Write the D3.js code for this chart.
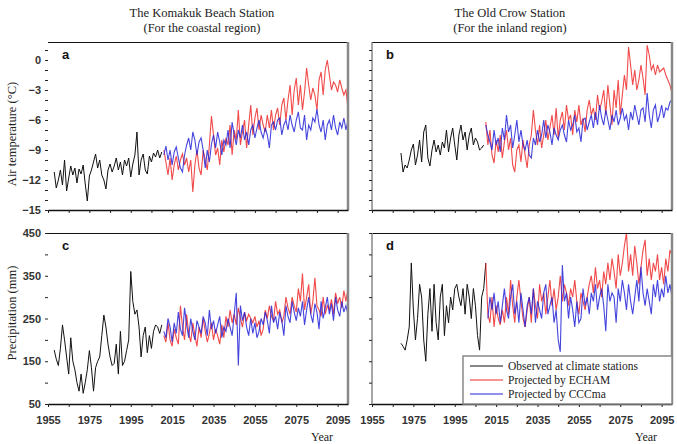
<!DOCTYPE html>
<html>
<head>
<meta charset="utf-8">
<script src="https://cdn.jsdelivr.net/npm/d3@7"></script>
<style>
body { margin: 0; background: #fff; }
</style>
</head>
<body>
<svg id="chart" width="677" height="444"></svg>
<script>
// --- data ---
const tempTicks = [0, -3, -6, -9, -12, -15];
const precipTicks = [50, 150, 250, 350, 450];
const yearTicks = [1955, 1975, 1995, 2015, 2035, 2055, 2075, 2095];

// a: Komakuk Beach air temperature
const obsTempKomakukStart = 1958;
const obsTempKomakuk = [
  -11.2, -12.8, -12.0, -11.0, -12.5, -10.0, -13.1, -11.8, -10.6, -11.5,
  -10.8, -12.3, -10.9, -11.4, -10.5, -12.4, -14.1, -11.6, -11.0, -10.2,
  -9.4, -10.8, -10.0, -11.5, -12.0, -12.9, -11.0, -10.4, -11.2, -10.6,
  -9.8, -11.0, -10.2, -11.5, -10.0, -10.6, -9.8, -11.7, -10.4, -9.5,
  -7.2, -11.5, -10.0, -9.4, -11.0, -11.4, -9.6, -10.2, -9.3, -9.7,
  -9.0, -9.8, -9.2
];
const echamTempKomakukStart = 2011;
const echamTempKomakuk = [
  -9.0, -10.2, -11.5, -9.8, -12.0, -10.5, -9.6, -11.0, -10.0, -9.4,
  -10.5, -9.8, -11.2, -10.0, -13.2, -10.5, -9.0, -10.8, -11.5, -9.0,
  -10.0, -11.0, -8.5, -5.6, -7.5, -9.5, -8.8, -10.5, -8.0, -9.2,
  -7.8, -8.5, -6.5, -9.5, -7.0, -8.0, -5.0, -8.5, -7.2, -6.0,
  -8.8, -6.5, -4.5, -7.5, -5.8, -4.8, -7.0, -5.5, -6.5, -7.2,
  -5.5, -6.8, -5.0, -7.0, -5.5, -4.8, -6.5, -4.5, -3.8, -6.0,
  -4.0, -2.5, -5.5, -3.0, -1.8, -4.5, -2.5, -5.0, -3.2, -0.8,
  -2.5, -4.0, -2.8, -3.5, -5.0, -2.0, -1.2, -3.5, -1.0, 0.0,
  -1.5, -3.0, -2.2, -2.5, -3.2, -2.0, -2.8, -3.5, -3.0, -4.8
];
const cccmaTempKomakukStart = 2011;
const cccmaTempKomakuk = [
  -9.5, -8.6, -10.0, -9.0, -10.5, -9.2, -8.7, -9.8, -10.8, -11.2,
  -9.5, -8.5, -7.8, -9.0, -7.2, -8.0, -9.5, -8.2, -7.8, -9.0,
  -10.8, -9.0, -10.2, -8.4, -7.5, -8.8, -7.2, -8.2, -9.5, -8.0,
  -8.5, -7.0, -8.8, -6.2, -7.5, -8.5, -7.0, -7.8, -6.5, -8.0,
  -7.2, -8.5, -7.0, -6.5, -7.8, -6.8, -6.0, -7.2, -7.8, -6.8,
  -7.5, -8.8, -6.5, -6.2, -7.0, -6.0, -5.8, -7.5, -6.5, -6.0,
  -7.0, -5.5, -6.5, -7.2, -6.0, -5.2, -6.8, -7.0, -5.5, -8.0,
  -6.5, -7.0, -5.8, -6.2, -4.9, -6.5, -7.2, -6.0, -8.0, -6.5,
  -6.0, -7.0, -5.5, -6.8, -7.5, -6.2, -6.8, -5.8, -7.0, -6.0
];

// b: Old Crow air temperature
const obsTempOldCrowStart = 1969;
const obsTempOldCrow = [
  -9.3, -11.2, -10.5, -10.8, -10.0, -9.0, -8.4, -10.5, -9.5, -8.0,
  -10.2, -7.2, -6.5, -9.8, -10.6, -9.0, -8.0, -9.2, -8.5, -9.5,
  -8.2, -8.8, -7.0, -9.2, -7.8, -6.8, -8.5, -10.0, -7.5, -6.5,
  -8.0, -7.2, -9.0, -7.5, -6.8, -8.5, -7.8, -8.2, -9.0, -8.8,
  -8.5
];
const echamTempOldCrowStart = 2010;
const echamTempOldCrow = [
  -6.2, -8.5, -7.0, -9.5, -10.3, -8.0, -9.2, -7.5, -9.8, -8.2,
  -7.0, -9.0, -7.8, -10.5, -11.2, -9.0, -8.5, -10.2, -8.0, -9.5,
  -10.8, -8.5, -7.5, -5.0, -7.0, -8.5, -6.5, -8.8, -7.5, -6.0,
  -8.0, -6.8, -5.5, -7.5, -4.8, -7.8, -6.0, -5.2, -7.0, -4.5,
  -6.0, -5.5, -7.5, -5.0, -6.2, -4.5, -6.5, -5.8, -7.2, -5.0,
  -4.0, -5.5, -4.8, -6.0, -3.5, -5.0, -4.2, -3.0, -5.5, -2.5,
  -4.5, -6.5, -3.0, -4.8, -2.0, -5.5, -3.5, -1.5, -3.0, 1.3,
  -0.5, -2.5, -1.0, -3.0, -2.0, -0.5, -1.8, -3.5, 1.5, 0.5,
  -1.0, -0.5, -1.5, -0.5, -1.2, -1.0, -0.8, -1.5, -2.0, -2.5, -3.3
];
const cccmaTempOldCrowStart = 2010;
const cccmaTempOldCrow = [
  -6.5, -7.5, -8.2, -9.0, -7.0, -8.5, -7.8, -9.2, -6.8, -8.0,
  -5.5, -7.2, -6.5, -8.8, -7.5, -6.0, -8.2, -7.0, -8.5, -9.0,
  -8.0, -9.5, -9.8, -7.8, -8.5, -7.0, -8.2, -7.5, -6.0, -7.8,
  -6.5, -7.2, -8.5, -6.8, -7.5, -8.0, -7.0, -6.5, -7.5, -8.2,
  -6.0, -7.0, -6.5, -5.5, -7.2, -6.8, -8.2, -6.0, -5.8, -7.0,
  -6.2, -5.5, -6.8, -5.2, -6.5, -4.5, -5.8, -6.5, -5.0, -6.0,
  -7.0, -5.5, -6.2, -5.0, -6.5, -5.8, -4.8, -6.0, -5.5, -7.0,
  -5.2, -6.0, -4.5, -5.5, -6.5, -5.0, -4.8, -6.2, -3.3, -5.5,
  -6.8, -5.0, -4.5, -6.2, -5.5, -4.5, -5.8, -4.8, -5.0, -4.2, -4.0
];

// c: Komakuk Beach precipitation
const obsPrecipKomakukStart = 1958;
const obsPrecipKomakuk = [
  176, 155, 140, 180, 235, 200, 160, 120, 205, 150,
  130, 100, 80, 120, 75, 100, 130, 175, 135, 80,
  135, 150, 160, 210, 258, 230, 190, 160, 140, 145,
  190, 120, 220, 140, 150, 175, 200, 360, 290, 260,
  270, 230, 160, 210, 230, 170, 210, 180, 220, 235,
  230, 215, 235
];
const echamPrecipKomakukStart = 2011;
const echamPrecipKomakuk = [
  210, 195, 240, 200, 185, 225, 205, 190, 280, 230,
  200, 260, 215, 195, 240, 210, 185, 230, 205, 250,
  220, 195, 215, 240, 200, 225, 210, 190, 235, 205,
  255, 230, 270, 240, 260, 235, 275, 250, 230, 265,
  245, 260, 250, 240, 255, 230, 245, 210, 225, 270,
  250, 280, 255, 245, 290, 260, 270, 240, 255, 300,
  275, 260, 300, 280, 265, 320, 290, 355, 270, 300,
  330, 260, 290, 345, 280, 270, 255, 300, 260, 280,
  270, 295, 260, 310, 285, 300, 275, 315, 290, 320
];
const cccmaPrecipKomakukStart = 2011;
const cccmaPrecipKomakuk = [
  220, 205, 250, 230, 195, 240, 215, 265, 225, 210,
  275, 235, 205, 250, 220, 200, 245, 230, 215, 255,
  240, 210, 270, 225, 245, 215, 235, 255, 205, 230,
  220, 250, 230, 210, 260, 310, 140, 280, 245, 265,
  230, 210, 250, 215, 240, 205, 220, 250, 235, 265,
  245, 215, 280, 240, 255, 225, 265, 245, 210, 280,
  255, 240, 290, 265, 245, 275, 255, 290, 235, 270,
  300, 260, 240, 285, 265, 225, 290, 250, 275, 300,
  260, 285, 245, 300, 270, 255, 290, 265, 280, 260
];

// d: Old Crow precipitation
const obsPrecipOldCrowStart = 1969;
const obsPrecipOldCrow = [
  192, 185, 176, 200, 230, 380, 270, 200, 250, 330,
  300, 200, 150, 260, 320, 220, 330, 240, 200, 300,
  330, 210, 280, 240, 300, 270, 320, 330, 300, 280,
  320, 260, 330, 300, 250, 320, 280, 210, 176, 300,
  320, 380
];
const echamPrecipOldCrowStart = 2010;
const echamPrecipOldCrow = [
  380, 260, 240, 300, 230, 280, 250, 235, 270, 240,
  300, 260, 340, 280, 240, 300, 340, 290, 250, 230,
  270, 300, 240, 320, 280, 250, 330, 290, 310, 260,
  300, 340, 280, 320, 270, 300, 350, 290, 330, 310,
  280, 320, 300, 340, 290, 260, 310, 290, 270, 300,
  330, 350, 310, 370, 320, 340, 300, 360, 330, 380,
  340, 390, 360, 320, 400, 350, 380, 420, 450, 360,
  400, 350, 420, 380, 330, 370, 410, 434, 350, 390,
  340, 380, 360, 400, 340, 370, 330, 390, 360, 410, 398
];
const cccmaPrecipOldCrowStart = 2011;
const cccmaPrecipOldCrow = [
  250, 300, 270, 310, 260, 290, 240, 280, 320, 270,
  250, 300, 330, 260, 290, 240, 310, 270, 230, 280,
  300, 260, 320, 240, 290, 270, 250, 310, 330, 260,
  280, 300, 240, 270, 200, 172, 375, 290, 310, 250,
  300, 270, 230, 290, 240, 250, 320, 280, 300, 260,
  310, 290, 330, 270, 300, 320, 280, 220, 330, 290,
  310, 300, 240, 320, 290, 340, 310, 270, 330, 290,
  260, 300, 340, 290, 371, 310, 280, 320, 290, 260,
  330, 300, 340, 290, 320, 300, 350, 310, 330, 300
];

const legendLabels = ['Observed at climate stations', 'Projected by ECHAM', 'Projected by CCCma'];
const seriesColors = ['#111', '#ee2a2a', '#2424d8'];

// --- helpers ---
function toPoints(start, values) {
  return values.map((v, i) => ({ year: start + i, v }));
}

const svg = d3.select('#chart');
const serif = '"Liberation Serif", "Times New Roman", serif';
const sans = '"Liberation Sans", Arial, sans-serif';

// station titles
[[202, 'The Komakuk Beach Station', '(For the coastal region)'],
 [510, 'The Old Crow Station', '(For the inland region)']].forEach(([cx, t1, t2]) => {
  svg.append('text').attr('x', cx).attr('y', 17).attr('text-anchor', 'middle')
    .attr('font-family', serif).attr('font-size', 12.5).attr('fill', '#222').text(t1);
  svg.append('text').attr('x', cx).attr('y', 32).attr('text-anchor', 'middle')
    .attr('font-family', serif).attr('font-size', 12.5).attr('fill', '#222').text(t2);
});

const panels = [
  { letter: 'a', x: [48, 348], y: [210, 42], domain: [-15, 1.8], ticks: tempTicks, minor: 1, labels: true, xlabels: false,
    series: [toPoints(obsTempKomakukStart, obsTempKomakuk), toPoints(echamTempKomakukStart, echamTempKomakuk), toPoints(cccmaTempKomakukStart, cccmaTempKomakuk)] },
  { letter: 'b', x: [372, 672], y: [210, 42], domain: [-15, 1.8], ticks: tempTicks, minor: 1, labels: false, xlabels: false,
    series: [toPoints(obsTempOldCrowStart, obsTempOldCrow), toPoints(echamTempOldCrowStart, echamTempOldCrow), toPoints(cccmaTempOldCrowStart, cccmaTempOldCrow)] },
  { letter: 'c', x: [48, 348], y: [404, 233], domain: [50, 450], ticks: precipTicks, minor: 50, labels: true, xlabels: true,
    series: [toPoints(obsPrecipKomakukStart, obsPrecipKomakuk), toPoints(echamPrecipKomakukStart, echamPrecipKomakuk), toPoints(cccmaPrecipKomakukStart, cccmaPrecipKomakuk)] },
  { letter: 'd', x: [372, 672], y: [404, 233], domain: [50, 450], ticks: precipTicks, minor: 50, labels: false, xlabels: true, legend: true,
    series: [toPoints(obsPrecipOldCrowStart, obsPrecipOldCrow), toPoints(echamPrecipOldCrowStart, echamPrecipOldCrow), toPoints(cccmaPrecipOldCrowStart, cccmaPrecipOldCrow)] }
];

panels.forEach((p, pi) => {
  const x = d3.scaleLinear().domain([1955, 2100]).range(p.x);
  const y = d3.scaleLinear().domain(p.domain).range(p.y);
  const g = svg.append('g');

  // clip
  const clipId = 'clip' + pi;
  svg.append('clipPath').attr('id', clipId).append('rect')
    .attr('x', p.x[0]).attr('y', p.y[1]).attr('width', p.x[1] - p.x[0]).attr('height', p.y[0] - p.y[1]);

  // series
  const line = d3.line().defined(d => d.v != null).x(d => x(d.year)).y(d => y(d.v));
  const lines = g.append('g').attr('clip-path', `url(#${clipId})`);
  p.series.forEach((s, i) => {
    lines.append('path').datum(s).attr('d', line).attr('fill', 'none')
      .attr('stroke', seriesColors[i]).attr('stroke-width', i === 0 ? 1 : 1.1)
      .attr('stroke-opacity', i === 0 ? 1 : 0.85);
  });

  // top border and right border
  g.append('line').attr('x1', p.x[0]).attr('x2', p.x[1]).attr('y1', p.y[1] + 0.5).attr('y2', p.y[1] + 0.5)
    .attr('stroke', '#111').attr('stroke-width', 1.2);
  g.append('line').attr('x1', p.x[1]).attr('x2', p.x[1]).attr('y1', p.y[1]).attr('y2', p.y[0])
    .attr('stroke', '#888').attr('stroke-width', 2.5);
  if (!p.labels) {
    g.append('line').attr('x1', p.x[0]).attr('x2', p.x[0]).attr('y1', p.y[1]).attr('y2', p.y[0])
      .attr('stroke', '#888').attr('stroke-width', 1.5);
  }

  // y axis: minor ticks + labelled majors
  const minorTicks = d3.range(p.domain[0], p.domain[1] + 0.001, p.minor);
  const yMinor = d3.axisLeft(y).tickValues(minorTicks).tickSize(3).tickFormat('');
  const ya = g.append('g').attr('transform', `translate(${p.x[0]},0)`).call(yMinor);
  ya.select('.domain').remove();
  ya.selectAll('line').attr('stroke', '#222');
  if (p.labels) {
    const yMajor = d3.axisLeft(y).tickValues(p.ticks).tickSize(0).tickPadding(7).tickFormat(d3.format('d'));
    const yl = g.append('g').attr('transform', `translate(${p.x[0]},0)`).call(yMajor);
    yl.select('.domain').remove();
    yl.selectAll('text').attr('font-family', sans).attr('font-size', 11).attr('font-weight', 'bold').attr('fill', '#333');
  }

  // x axis
  const xa = g.append('g').attr('transform', `translate(0,${p.y[0]})`)
    .call(d3.axisBottom(x).tickValues(d3.range(1955, 2101, 10)).tickSize(3).tickSizeOuter(0).tickFormat(''));
  xa.select('.domain').attr('stroke', '#111').attr('stroke-width', 1.4);
  xa.selectAll('line').attr('stroke', '#222');
  if (p.xlabels) {
    const xl = g.append('g').attr('transform', `translate(0,${p.y[0]})`)
      .call(d3.axisBottom(x).tickValues(yearTicks).tickSize(0).tickPadding(12).tickFormat(d3.format('d')));
    xl.select('.domain').remove();
    xl.selectAll('text').attr('font-family', sans).attr('font-size', 11).attr('font-weight', 'bold').attr('fill', '#333');
    svg.append('text').attr('x', p.x[1] - 26).attr('y', 441).attr('text-anchor', 'middle')
      .attr('font-family', serif).attr('font-size', 12).attr('fill', '#222').text('Year');
  }

  // panel letter
  g.append('text').attr('x', p.x[0] + 14).attr('y', p.y[1] + 17)
    .attr('font-family', sans).attr('font-weight', 'bold').attr('font-size', 13).attr('fill', '#111').text(p.letter);

  if (p.legend) {
    const lx = 463, ly = 356;
    g.append('rect').attr('x', lx).attr('y', ly).attr('width', p.x[1] - lx).attr('height', p.y[0] - ly)
      .attr('fill', '#fff').attr('stroke', '#888').attr('stroke-width', 1.5);
    legendLabels.forEach((lab, i) => {
      const yy = ly + 10 + i * 14;
      g.append('line').attr('x1', lx + 7).attr('x2', lx + 40).attr('y1', yy).attr('y2', yy)
        .attr('stroke', seriesColors[i]).attr('stroke-width', 1.2);
      g.append('text').attr('x', lx + 45).attr('y', yy + 4).attr('font-family', serif)
        .attr('font-size', 11.5).attr('fill', '#222').text(lab);
    });
  }
});

// y axis titles
svg.append('text').attr('transform', 'translate(16,134) rotate(-90)').attr('text-anchor', 'middle')
  .attr('font-family', serif).attr('font-size', 12.5).attr('fill', '#222').text('Air temperature (°C)');
svg.append('text').attr('transform', 'translate(16,313) rotate(-90)').attr('text-anchor', 'middle')
  .attr('font-family', serif).attr('font-size', 12.5).attr('fill', '#222').text('Precipitation (mm)');
</script>
</body>
</html>
